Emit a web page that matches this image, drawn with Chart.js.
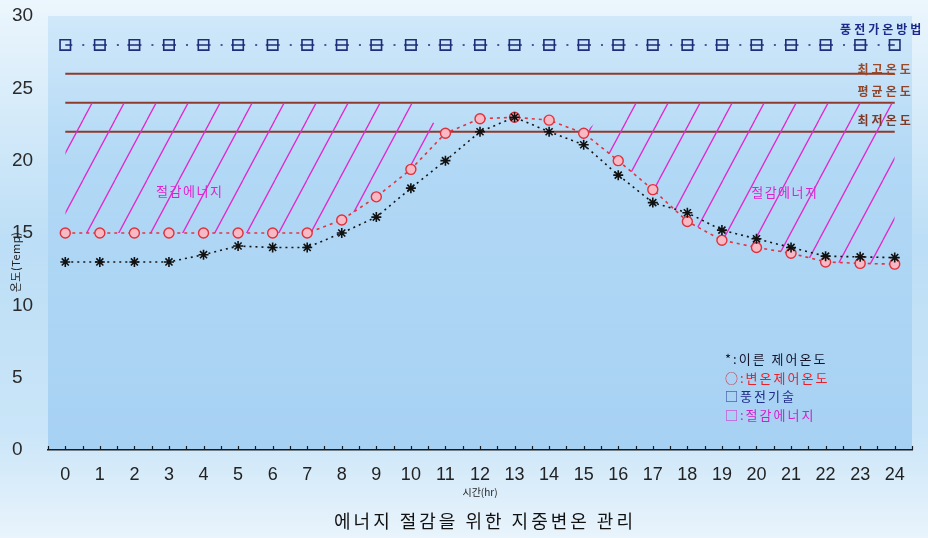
<!DOCTYPE html>
<html>
<head>
<meta charset="utf-8">
<script src="https://cdn.jsdelivr.net/npm/chart.js@4/dist/chart.umd.min.js"></script>
<style>
  html, body { margin: 0; padding: 0; background: #e6f2fb; }
  canvas { display: block; }
</style>
</head>
<body>
<canvas id="chart" width="928" height="538"></canvas>
<script>
// Hours of the day (x categories) and their tick labels
const hours = [0, 1, 2, 3, 4, 5, 6, 7, 8, 9, 10, 11, 12, 13, 14, 15, 16, 17, 18, 19, 20, 21, 22, 23, 24];
const hourLabels = ['0', '1', '2', '3', '4', '5', '6', '7', '8', '9', '10', '11', '12', '13', '14', '15', '16', '17', '18', '19', '20', '21', '22', '23', '24'];
const tempTicks = [0, 5, 10, 15, 20, 25, 30];

// 이른 제어온도 (*)
const earlyControlTemp = [13, 13, 13, 13, 13.5, 14.1, 14, 14, 15, 16.1, 18.1, 20, 22, 23, 22, 21.1, 19, 17.1, 16.4, 15.2, 14.6, 14, 13.4, 13.35, 13.3];
// 변온제어온도 (○)
const variableControlTemp = [15, 15, 15, 15, 15, 15, 15, 15, 15.9, 17.5, 19.4, 21.9, 22.9, 23, 22.8, 21.9, 20, 18, 15.8, 14.5, 14, 13.6, 13, 12.9, 12.85];
// 풍전기술 (□)
const conventionalTemp = [28, 28, 28, 28, 28, 28, 28, 28, 28, 28, 28, 28, 28, 28, 28, 28, 28, 28, 28, 28, 28, 28, 28, 28, 28];
// 절감에너지: upper edge of the hatched saving area (lower edge is the 변온 curve)
const savingUpperEdge = [24, 24, 24, 24, 24, 24, 24, 24, 24, 24, 24, 21.9, 22.9, 23, 22.8, 21.9, 24, 24, 24, 24, 24, 24, 24, 24, 24];

// Reference temperature levels
const maxTemp = 26;   // 최고온도
const avgTemp = 24;   // 평균온도
const minTemp = 22;   // 최저온도

const KR = "'Noto Sans CJK KR', 'Noto Sans', sans-serif";
const NUM = "'Liberation Sans', Arial, sans-serif";

const toPoints = arr => hours.map((h, i) => ({ x: h, y: arr[i] }));
const levelLine = v => [{ x: hours[0], y: v }, { x: hours[hours.length - 1], y: v }];

// Diagonal magenta hatch used to fill the saving area
function makeHatch() {
  const w = 32, h = 60;
  const c = document.createElement('canvas');
  c.width = w; c.height = h;
  const g = c.getContext('2d');
  g.strokeStyle = '#e02acf';
  g.lineWidth = 1.3;
  g.beginPath();
  for (const dx of [-w, 0, w]) { g.moveTo(dx, h); g.lineTo(dx + w, 0); }
  g.stroke();
  const pat = g.createPattern(c, 'repeat');
  pat.setTransform(new DOMMatrix([1, 0, 0, 1, 19, 0]));
  return pat;
}

const backdrop = {
  id: 'backdrop',
  beforeDraw(chart) {
    const { ctx, width, height, chartArea: a } = chart;
    ctx.save();
    const g = ctx.createLinearGradient(0, 0, 0, height);
    g.addColorStop(0, '#ecf6fd');
    g.addColorStop(0.45, '#bcdef6');
    g.addColorStop(0.8, '#cae5f8');
    g.addColorStop(1, '#e9f4fc');
    ctx.fillStyle = g;
    ctx.fillRect(0, 0, width, height);
    const p = ctx.createLinearGradient(0, a.top, 0, a.bottom);
    p.addColorStop(0, '#d0e8fa');
    p.addColorStop(0.35, '#b1d8f5');
    p.addColorStop(1, '#a7d1f3');
    ctx.fillStyle = p;
    ctx.fillRect(a.left, a.top, a.right - a.left, a.bottom - a.top);
    ctx.restore();
  }
};

function drawText(ctx, str, x, y, font, color, align, spacing) {
  ctx.font = font;
  ctx.fillStyle = color;
  ctx.textAlign = align || 'left';
  ctx.textBaseline = 'middle';
  ctx.letterSpacing = (spacing || 0) + 'px';
  ctx.fillText(str, x, y);
  ctx.letterSpacing = '0px';
}

const annotations = {
  id: 'annotations',
  afterDraw(chart) {
    const { ctx, chartArea: a } = chart;
    const xs = chart.scales.x, ys = chart.scales.y;
    ctx.save();

    // small upward tick marks along the time axis
    ctx.strokeStyle = '#1a1a1a';
    ctx.lineWidth = 1.2;
    ctx.beginPath();
    xs.ticks.forEach(t => {
      const px = Math.round(xs.getPixelForValue(t.value)) + 0.5;
      ctx.moveTo(px, a.bottom);
      ctx.lineTo(px, a.bottom - 4);
    });
    ctx.stroke();

    // level labels
    const rx = xs.getPixelForValue(24.55);
    drawText(ctx, '최고온도', rx, ys.getPixelForValue(maxTemp) - 4, `600 12px ${KR}`, '#9a4a28', 'right', 3);
    drawText(ctx, '평균온도', rx, ys.getPixelForValue(avgTemp) - 11, `600 12px ${KR}`, '#8e4428', 'right', 3);
    drawText(ctx, '최저온도', rx, ys.getPixelForValue(minTemp) - 11, `600 12px ${KR}`, '#7e3a28', 'right', 3);
    drawText(ctx, '풍전가온방법', xs.getPixelForValue(22.42), ys.getPixelForValue(29.1), `700 12px ${KR}`, '#1c2a8c', 'left', 3);

    // saving-area captions
    drawText(ctx, '절감에너지', xs.getPixelForValue(3.6), ys.getPixelForValue(17.9), `13px ${KR}`, '#e020d0', 'center', 1.5);
    drawText(ctx, '절감에너지', xs.getPixelForValue(20.82), ys.getPixelForValue(17.85), `13px ${KR}`, '#e020d0', 'center', 1.5);

    // legend block
    const lx = 725;
    drawText(ctx, '*:이른 제어온도', lx, 359, `13px ${KR}`, '#14142a', 'left', 2);
    drawText(ctx, '○:변온제어온도', lx, 378, `13px ${KR}`, '#e8202c', 'left', 2);
    drawText(ctx, '□풍전기술', lx, 396, `13px ${KR}`, '#1f2d8a', 'left', 2);
    drawText(ctx, '□:절감에너지', lx, 415, `13px ${KR}`, '#d21fc8', 'left', 2);

    // vertical axis title
    ctx.save();
    ctx.translate(16, 262);
    ctx.rotate(-Math.PI / 2);
    drawText(ctx, '온도(Temp)', 0, 0, `11px ${KR}`, '#222', 'center', 0.5);
    ctx.restore();

    // chart caption
    drawText(ctx, '에너지 절감을 위한 지중변온 관리', 485, 521, `18px ${KR}`, '#111', 'center', 3);

    ctx.restore();
  }
};

new Chart(document.getElementById('chart'), {
  type: 'line',
  data: {
    datasets: [
      {
        label: '이른 제어온도',
        data: toPoints(earlyControlTemp),
        borderColor: '#151515',
        borderWidth: 1.6,
        borderDash: [2, 4],
        pointStyle: 'star',
        pointRadius: 5,
        pointBorderColor: '#111',
        pointBackgroundColor: '#111',
        pointBorderWidth: 1.6,
        fill: false,
        order: 0
      },
      {
        label: '변온제어온도',
        data: toPoints(variableControlTemp),
        borderColor: '#e2343f',
        borderWidth: 1.6,
        borderDash: [3, 4],
        pointStyle: 'circle',
        pointRadius: 5,
        pointBorderColor: '#e0303c',
        pointBackgroundColor: '#f7b9c3',
        pointBorderWidth: 1.4,
        fill: false,
        order: 1
      },
      {
        label: '절감에너지',
        data: toPoints(savingUpperEdge),
        borderColor: 'rgba(0,0,0,0)',
        borderWidth: 1,
        pointRadius: 0,
        backgroundColor: makeHatch(),
        fill: 1,
        order: 2
      },
      {
        label: '풍전기술',
        data: toPoints(conventionalTemp),
        borderColor: '#1f2d7a',
        borderWidth: 1.5,
        borderDash: [14, 10, 2, 8.58],
        borderDashOffset: 7,
        pointStyle: 'rect',
        pointRadius: 7.4,
        pointBorderColor: '#1f2d7a',
        pointBackgroundColor: 'rgba(0,0,0,0)',
        pointBorderWidth: 1.6,
        fill: false,
        order: 3
      },
      { label: '최고온도', data: levelLine(maxTemp), borderColor: '#8e3b2c', borderWidth: 2, pointRadius: 0, fill: false, order: 4 },
      { label: '평균온도', data: levelLine(avgTemp), borderColor: '#8e3b2c', borderWidth: 2, pointRadius: 0, fill: false, order: 4 },
      { label: '최저온도', data: levelLine(minTemp), borderColor: '#8e3b2c', borderWidth: 2, pointRadius: 0, fill: false, order: 4 }
    ]
  },
  options: {
    responsive: false,
    animation: false,
    devicePixelRatio: 1,
    layout: { padding: { left: 12, right: 16, top: 16, bottom: 0 } },
    plugins: {
      legend: { display: false },
      tooltip: { enabled: false },
      title: { display: false }
    },
    scales: {
      x: {
        type: 'linear',
        min: -0.5,
        max: 24.5,
        ticks: {
          stepSize: 0.5,
          autoSkip: false,
          maxRotation: 0,
          padding: 14,
          color: '#222',
          font: { family: NUM, size: 18 },
          callback: v => {
            const r = Math.round(v);
            return Math.abs(v - r) < 1e-6 && hourLabels[r] !== undefined ? hourLabels[r] : '';
          }
        },
        grid: { display: false, drawTicks: false },
        border: { display: true, color: '#1a1a1a', width: 1.5 },
        title: {
          display: true,
          text: '시간(hr)',
          color: '#222',
          font: { family: KR, size: 10 },
          padding: { top: 0, bottom: 40 }
        },
        afterFit: s => { s.height = 88; }
      },
      y: {
        min: tempTicks[0],
        max: tempTicks[tempTicks.length - 1],
        afterBuildTicks: s => { s.ticks = tempTicks.map(v => ({ value: v })); },
        ticks: {
          crossAlign: 'far',
          padding: 0,
          color: '#2a2a2a',
          font: { family: NUM, size: 19 }
        },
        grid: { display: false, drawTicks: false },
        border: { display: false },
        afterFit: s => { s.width = 36; }
      }
    }
  },
  plugins: [backdrop, annotations]
});
</script>
</body>
</html>
